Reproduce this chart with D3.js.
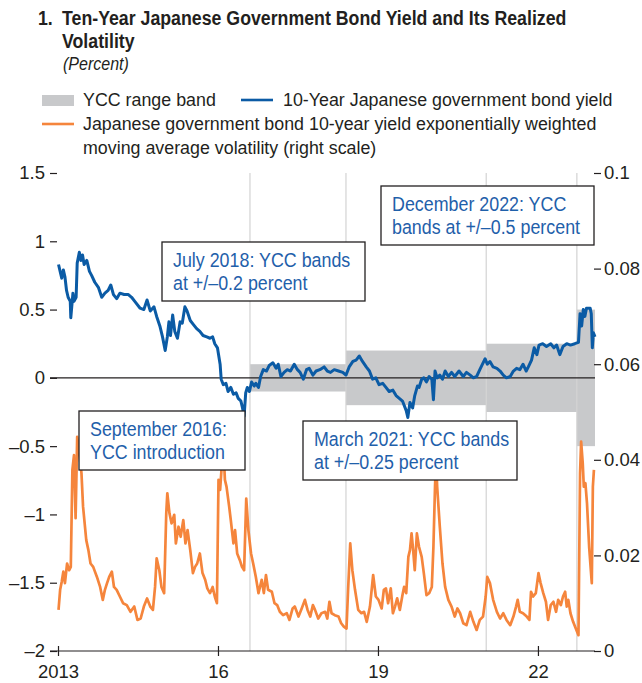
<!DOCTYPE html>
<html>
<head>
<meta charset="utf-8">
<script src="https://cdn.jsdelivr.net/npm/d3@7"></script>
<style>
  html, body { margin: 0; padding: 0; background: #fff; }
  svg { display: block; }
  text { font-family: "Liberation Sans Narrow", "Arial Narrow", sans-serif; fill: #231f20; }
</style>
</head>
<body>
<div id="chart"></div>
<script>
// ---------- DATA ----------
const yieldYears = [2013.01,2013.04,2013.07,2013.10,2013.13,2013.16,2013.19,2013.23,2013.24,2013.28,2013.30,2013.34,2013.36,2013.40,2013.43,2013.46,2013.49,2013.54,2013.59,2013.63,2013.69,2013.76,2013.82,2013.88,2013.94,2013.99,2014.04,2014.10,2014.16,2014.24,2014.32,2014.38,2014.44,2014.54,2014.61,2014.67,2014.73,2014.80,2014.85,2014.91,2014.96,2015.01,2015.05,2015.08,2015.11,2015.15,2015.19,2015.24,2015.29,2015.33,2015.38,2015.42,2015.48,2015.54,2015.60,2015.66,2015.72,2015.79,2015.85,2015.90,2015.94,2015.99,2016.04,2016.06,2016.10,2016.15,2016.19,2016.24,2016.29,2016.34,2016.38,2016.43,2016.46,2016.49,2016.52,2016.55,2016.59,2016.63,2016.68,2016.71,2016.76,2016.80,2016.85,2016.91,2016.96,2017.03,2017.09,2017.13,2017.18,2017.24,2017.30,2017.36,2017.43,2017.49,2017.54,2017.60,2017.66,2017.71,2017.78,2017.84,2017.91,2017.99,2018.05,2018.11,2018.18,2018.26,2018.34,2018.40,2018.46,2018.53,2018.59,2018.65,2018.71,2018.78,2018.84,2018.90,2018.96,2019.02,2019.09,2019.15,2019.21,2019.28,2019.34,2019.40,2019.46,2019.53,2019.56,2019.60,2019.65,2019.69,2019.74,2019.77,2019.82,2019.86,2019.91,2019.96,2020.01,2020.04,2020.07,2020.11,2020.16,2020.21,2020.26,2020.32,2020.38,2020.44,2020.52,2020.60,2020.66,2020.73,2020.79,2020.85,2020.91,2020.96,2021.01,2021.05,2021.10,2021.16,2021.23,2021.29,2021.35,2021.41,2021.48,2021.54,2021.60,2021.66,2021.72,2021.78,2021.82,2021.88,2021.93,2021.98,2022.02,2022.09,2022.16,2022.24,2022.30,2022.35,2022.41,2022.47,2022.54,2022.61,2022.69,2022.76,2022.79,2022.82,2022.85,2022.88,2022.91,2022.98,2023.00,2023.02,2023.04,2023.07];
const yieldValues = [0.83,0.78,0.73,0.79,0.74,0.64,0.59,0.56,0.44,0.62,0.56,0.59,0.84,0.92,0.86,0.90,0.83,0.86,0.78,0.75,0.70,0.66,0.59,0.62,0.64,0.68,0.61,0.58,0.62,0.61,0.61,0.59,0.56,0.51,0.50,0.57,0.49,0.52,0.45,0.38,0.30,0.20,0.30,0.41,0.31,0.46,0.34,0.29,0.41,0.40,0.52,0.49,0.42,0.39,0.36,0.34,0.31,0.30,0.29,0.30,0.25,0.22,0.10,-0.01,-0.05,-0.04,-0.10,-0.07,-0.12,-0.11,-0.15,-0.17,-0.22,-0.28,-0.11,-0.07,-0.10,-0.03,-0.06,-0.04,-0.07,0.01,0.06,0.05,0.09,0.11,0.07,0.10,0.01,0.04,0.06,0.05,0.10,0.06,0.04,-0.01,0.06,0.07,0.02,0.05,0.06,0.08,0.05,0.04,0.06,0.05,0.04,0.02,0.08,0.12,0.13,0.16,0.12,0.08,0.05,-0.01,0.00,-0.05,-0.04,-0.07,-0.10,-0.09,-0.13,-0.15,-0.17,-0.24,-0.29,-0.18,-0.22,-0.13,-0.06,-0.07,-0.01,0.00,-0.03,0.01,-0.01,-0.16,0.05,0.00,0.02,-0.01,0.05,0.01,0.04,0.01,0.05,0.01,0.04,0.02,0.00,0.01,0.06,0.10,0.14,0.10,0.12,0.08,0.07,0.05,0.02,0.00,0.01,0.05,0.07,0.06,0.10,0.05,0.08,0.13,0.22,0.17,0.24,0.25,0.23,0.25,0.22,0.24,0.17,0.23,0.25,0.24,0.25,0.26,0.47,0.38,0.50,0.45,0.51,0.51,0.47,0.22,0.33,0.30];

const volYears = [2013.01,2013.04,2013.07,2013.10,2013.13,2013.17,2013.21,2013.24,2013.27,2013.30,2013.33,2013.36,2013.40,2013.44,2013.47,2013.53,2013.57,2013.61,2013.66,2013.73,2013.79,2013.84,2013.88,2013.92,2013.96,2014.01,2014.05,2014.10,2014.16,2014.22,2014.29,2014.36,2014.43,2014.49,2014.55,2014.61,2014.67,2014.73,2014.78,2014.82,2014.85,2014.90,2014.94,2014.99,2015.03,2015.05,2015.09,2015.13,2015.18,2015.21,2015.26,2015.30,2015.35,2015.39,2015.43,2015.48,2015.53,2015.57,2015.61,2015.66,2015.71,2015.76,2015.80,2015.85,2015.90,2015.94,2015.98,2016.01,2016.04,2016.07,2016.10,2016.13,2016.16,2016.21,2016.24,2016.29,2016.32,2016.36,2016.41,2016.45,2016.49,2016.53,2016.57,2016.62,2016.66,2016.71,2016.76,2016.82,2016.86,2016.90,2016.94,2017.01,2017.06,2017.11,2017.16,2017.22,2017.29,2017.34,2017.40,2017.44,2017.51,2017.57,2017.63,2017.68,2017.73,2017.78,2017.82,2017.88,2017.94,2018.01,2018.05,2018.09,2018.13,2018.19,2018.26,2018.31,2018.36,2018.41,2018.44,2018.48,2018.52,2018.57,2018.63,2018.69,2018.74,2018.79,2018.85,2018.91,2018.96,2019.01,2019.07,2019.11,2019.15,2019.19,2019.24,2019.28,2019.32,2019.36,2019.41,2019.46,2019.49,2019.53,2019.57,2019.60,2019.63,2019.66,2019.69,2019.73,2019.77,2019.82,2019.86,2019.91,2019.96,2020.01,2020.04,2020.07,2020.09,2020.11,2020.16,2020.21,2020.26,2020.32,2020.38,2020.44,2020.49,2020.54,2020.60,2020.66,2020.73,2020.79,2020.85,2020.91,2020.97,2021.02,2021.05,2021.10,2021.16,2021.23,2021.29,2021.35,2021.41,2021.48,2021.54,2021.59,2021.62,2021.66,2021.72,2021.79,2021.84,2021.87,2021.91,2021.96,2022.01,2022.05,2022.10,2022.15,2022.19,2022.24,2022.29,2022.34,2022.38,2022.43,2022.47,2022.51,2022.54,2022.57,2022.61,2022.66,2022.71,2022.76,2022.79,2022.81,2022.84,2022.86,2022.89,2022.92,2022.96,2023.01,2023.03,2023.05];
const volValues = [0.0086,0.0128,0.0145,0.0166,0.0142,0.0183,0.0169,0.0176,0.0379,0.0410,0.0278,0.0448,0.0414,0.0372,0.0302,0.0232,0.0211,0.0183,0.0176,0.0155,0.0134,0.0107,0.0128,0.0142,0.0155,0.0166,0.0134,0.0128,0.0114,0.0100,0.0096,0.0082,0.0093,0.0065,0.0068,0.0093,0.0110,0.0093,0.0086,0.0134,0.0194,0.0169,0.0134,0.0121,0.0288,0.0330,0.0288,0.0267,0.0285,0.0225,0.0260,0.0239,0.0274,0.0225,0.0253,0.0211,0.0163,0.0176,0.0183,0.0204,0.0163,0.0149,0.0131,0.0121,0.0134,0.0114,0.0100,0.0358,0.0337,0.0386,0.0430,0.0358,0.0344,0.0302,0.0274,0.0225,0.0253,0.0204,0.0190,0.0176,0.0169,0.0319,0.0253,0.0204,0.0183,0.0155,0.0121,0.0149,0.0121,0.0159,0.0128,0.0124,0.0100,0.0096,0.0082,0.0075,0.0079,0.0065,0.0089,0.0093,0.0072,0.0089,0.0107,0.0086,0.0072,0.0096,0.0086,0.0068,0.0079,0.0082,0.0068,0.0103,0.0079,0.0075,0.0072,0.0058,0.0051,0.0047,0.0128,0.0225,0.0169,0.0128,0.0086,0.0079,0.0082,0.0061,0.0093,0.0159,0.0114,0.0107,0.0089,0.0128,0.0131,0.0100,0.0131,0.0079,0.0093,0.0110,0.0086,0.0117,0.0134,0.0121,0.0197,0.0211,0.0246,0.0211,0.0169,0.0246,0.0218,0.0197,0.0163,0.0117,0.0121,0.0134,0.0218,0.0344,0.0400,0.0344,0.0260,0.0183,0.0134,0.0107,0.0093,0.0072,0.0089,0.0079,0.0058,0.0054,0.0082,0.0061,0.0044,0.0065,0.0072,0.0114,0.0155,0.0142,0.0107,0.0082,0.0068,0.0079,0.0065,0.0054,0.0072,0.0093,0.0107,0.0082,0.0079,0.0072,0.0065,0.0124,0.0114,0.0121,0.0163,0.0142,0.0121,0.0103,0.0065,0.0096,0.0103,0.0082,0.0107,0.0096,0.0114,0.0124,0.0093,0.0107,0.0079,0.0061,0.0047,0.0033,0.0372,0.0438,0.0393,0.0344,0.0351,0.0309,0.0218,0.0142,0.0344,0.0379];

// YCC regimes: start, end, half-width of band
const bandStarts = [2016.60, 2018.40, 2021.03, 2022.73];
const bandEnds   = [2018.40, 2021.03, 2022.73, 2023.07];
const bandHalfWidths = [0.1, 0.2, 0.25, 0.5];

const leftTicks = [-2, -1.5, -1, -0.5, 0, 0.5, 1, 1.5];
const leftTickLabels = ["–2", "–1.5", "–1", "–0.5", "0", "0.5", "1", "1.5"];
const rightTicks = [0, 0.02, 0.04, 0.06, 0.08, 0.1];
const rightTickLabels = ["0", "0.02", "0.04", "0.06", "0.08", "0.1"];
const xTicks = [2013, 2016, 2019, 2022];
const xTickLabels = ["2013", "16", "19", "22"];

const annotations = [
  { lines: ["September 2016:", "YCC introduction"], x: 79, y: 411, w: 166, h: 59 },
  { lines: ["July 2018: YCC bands", "at +/–0.2 percent"], x: 162, y: 242, w: 203, h: 59 },
  { lines: ["March 2021: YCC bands", "at +/–0.25 percent"], x: 303, y: 421, w: 214, h: 59 },
  { lines: ["December 2022: YCC", "bands at +/–0.5 percent"], x: 381, y: 186, w: 213, h: 59 }
];

// ---------- CHART ----------
const W = 642, H = 683;
const L = 50, R = 595, T = 173, B = 651;
const BLUE = "#0b5ba5", ORANGE = "#f5853c", GRAY = "#c8c9cb", ANN = "#1f60aa", INK = "#231f20";

const svg = d3.select("#chart").append("svg").attr("width", W).attr("height", H);

const x = d3.scaleLinear().domain([2012.85, 2023.07]).range([L, R]);
const yL = d3.scaleLinear().domain([-2, 1.5]).range([B, T]);
const yR = d3.scaleLinear().domain([0, 0.1]).range([B, T]);

// horizontal condensing helper (mimics the condensed typeface)
function condense(sel, k) {
  sel.each(function() {
    const t = d3.select(this);
    const x0 = +t.attr("x"), y0 = +t.attr("y");
    t.attr("x", 0).attr("y", 0).attr("transform", `translate(${x0},${y0}) scale(${k},1)`);
  });
}

// Title
const title = svg.append("g");
title.append("text").attr("x", 38).attr("y", 25).attr("font-size", 20.5).attr("font-weight", "bold").text("1.");
const t1 = title.append("text").attr("x", 62).attr("y", 25).attr("font-size", 20.5).attr("font-weight", "bold").text("Ten-Year Japanese Government Bond Yield and Its Realized");
title.append("text").attr("x", 62).attr("y", 48).attr("font-size", 20.5).attr("font-weight", "bold").text("Volatility");
title.append("text").attr("x", 63).attr("y", 70).attr("font-size", 18.5).attr("font-style", "italic").text("(Percent)");
const kTitle = 505 / t1.node().getComputedTextLength();
condense(title.selectAll("text"), kTitle);

// Legend
const lg = svg.append("g").attr("font-size", 18.5);
lg.append("rect").attr("x", 42).attr("y", 95).attr("width", 32).attr("height", 11).attr("fill", GRAY);
lg.append("line").attr("x1", 241).attr("x2", 273).attr("y1", 100).attr("y2", 100).attr("stroke", BLUE).attr("stroke-width", 2.6);
lg.append("line").attr("x1", 42).attr("x2", 74).attr("y1", 124).attr("y2", 124).attr("stroke", ORANGE).attr("stroke-width", 2.6);
const lgt = lg.append("g");
lgt.append("text").attr("x", 83).attr("y", 106).text("YCC range band");
lgt.append("text").attr("x", 283).attr("y", 106).text("10-Year Japanese government bond yield");
const lgLong = lgt.append("text").attr("x", 83).attr("y", 130).text("Japanese government bond 10-year yield exponentially weighted");
lgt.append("text").attr("x", 83).attr("y", 154).text("moving average volatility (right scale)");
const kLeg = 514 / lgLong.node().getComputedTextLength();
condense(lgt.selectAll("text"), kLeg);

// Bands
const bands = bandStarts.map((s, i) => ({ s, e: bandEnds[i], h: bandHalfWidths[i] }));
svg.append("g").selectAll("rect").data(bands).join("rect")
  .attr("x", d => x(d.s)).attr("width", d => x(d.e) - x(d.s))
  .attr("y", d => yL(d.h)).attr("height", d => yL(-d.h) - yL(d.h))
  .attr("fill", GRAY);

// Event lines
svg.append("g").selectAll("line").data(bandStarts).join("line")
  .attr("x1", d => x(d)).attr("x2", d => x(d))
  .attr("y1", T).attr("y2", B)
  .attr("stroke", "#d3d3d3").attr("stroke-width", 1.2);

// Zero line
svg.append("line").attr("x1", L).attr("x2", R).attr("y1", yL(0)).attr("y2", yL(0))
  .attr("stroke", INK).attr("stroke-width", 1.2);

// Axes
const fs = 18.5;
const axL = svg.append("g").attr("transform", `translate(${L},0)`)
  .call(d3.axisLeft(yL).tickValues(leftTicks).tickFormat((d, i) => leftTickLabels[i]).tickSize(-7).tickPadding(5));
axL.select(".domain").remove();
axL.selectAll("line").attr("stroke", INK).attr("stroke-width", 1.2);
axL.selectAll("text").attr("font-size", fs).attr("font-family", null).attr("fill", INK);

const axR = svg.append("g").attr("transform", `translate(${R - 1},0)`)
  .call(d3.axisRight(yR).tickValues(rightTicks).tickFormat((d, i) => rightTickLabels[i]).tickSize(7).tickPadding(3));
axR.select(".domain").remove();
axR.selectAll("line").attr("stroke", INK).attr("stroke-width", 1.2);
axR.selectAll("text").attr("font-size", fs).attr("font-family", null).attr("fill", INK);

const axB = svg.append("g").attr("transform", `translate(0,${B})`)
  .call(d3.axisBottom(x).tickValues(xTicks).tickFormat((d, i) => xTickLabels[i]).tickSize(5).tickPadding(9));
axB.select(".domain").remove();
axB.selectAll("line").attr("y1", -5).attr("stroke", INK).attr("stroke-width", 1.2);
axB.selectAll("text").attr("font-size", fs).attr("font-family", null).attr("fill", INK);
svg.append("line").attr("x1", L).attr("x2", R).attr("y1", B).attr("y2", B).attr("stroke", INK).attr("stroke-width", 1.2);

// Lines
const yieldData = yieldYears.map((t, i) => [t, yieldValues[i]]);
const volData = volYears.map((t, i) => [t, volValues[i]]);
svg.append("path").datum(volData)
  .attr("d", d3.line().x(d => x(d[0])).y(d => yR(d[1])))
  .attr("fill", "none").attr("stroke", ORANGE).attr("stroke-width", 2.7).attr("stroke-linejoin", "round");
svg.append("path").datum(yieldData)
  .attr("d", d3.line().x(d => x(d[0])).y(d => yL(d[1])))
  .attr("fill", "none").attr("stroke", BLUE).attr("stroke-width", 3).attr("stroke-linejoin", "round");

// Annotations
const ag = svg.append("g").selectAll("g").data(annotations).join("g")
  .attr("transform", d => `translate(${d.x},${d.y})`);
ag.append("rect").attr("width", d => d.w).attr("height", d => d.h)
  .attr("fill", "#fff").attr("stroke", INK).attr("stroke-width", 1.3);
ag.each(function(d) {
  const g = d3.select(this);
  d.lines.forEach((ln, i) => {
    g.append("text").attr("class", "ann").attr("x", 11).attr("y", 25 + i * 23).attr("font-size", 19.5)
      .style("fill", ANN).text(ln);
  });
});
const annFirst = svg.select("text.ann");
const kAnn = 137 / annFirst.node().getComputedTextLength();
condense(svg.selectAll("text.ann"), kAnn);
</script>
</body>
</html>
